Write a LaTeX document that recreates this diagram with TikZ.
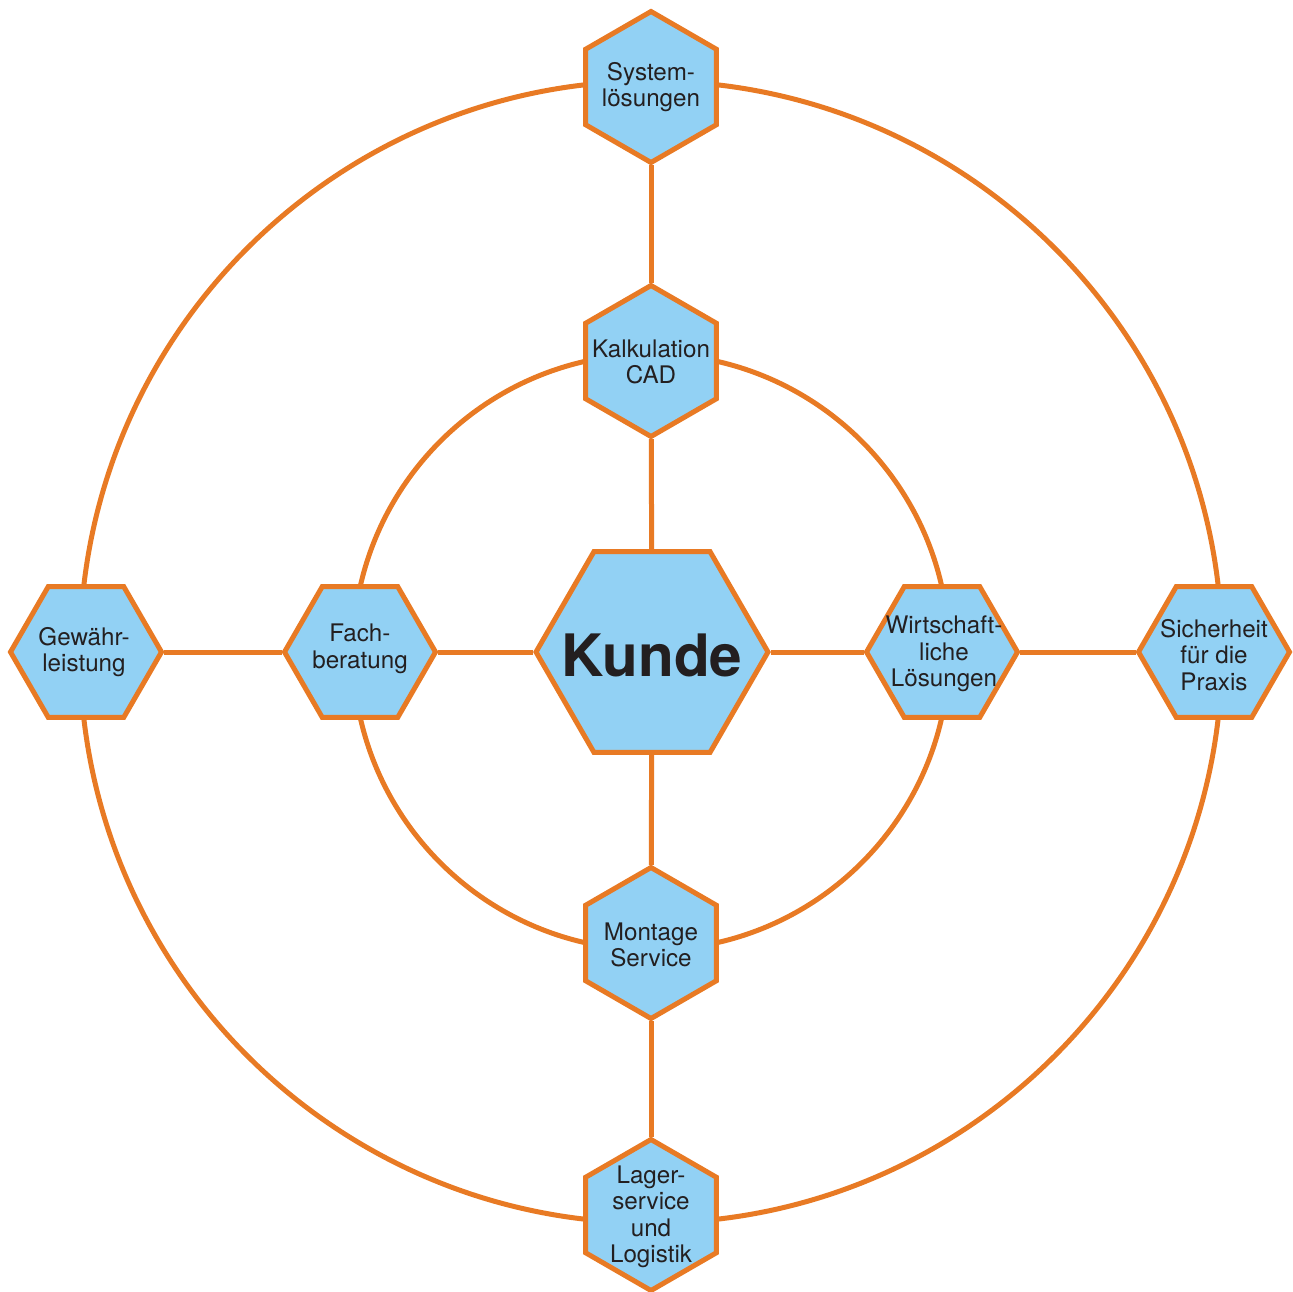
\documentclass[tikz,border=0pt]{standalone}
\usepackage{fontspec}
\setmainfont{TeX Gyre Heros}
\usetikzlibrary{shapes.geometric}
\definecolor{ring}{HTML}{E87A24}
\definecolor{hexfill}{HTML}{92D1F4}
\definecolor{ink}{HTML}{231F20}
\tikzset{
  hexbase/.style={regular polygon, regular polygon sides=6, draw=ring, fill=hexfill, line width=5pt, inner sep=0pt},
  hexv/.style={hexbase, regular polygon rotate=30, minimum size=151pt},
  hexh/.style={hexbase, minimum size=151pt},
  hexbig/.style={hexbase, minimum size=232pt},
  lbl/.style={align=center, text=ink, font=\fontsize{24.2}{26.5}\selectfont, inner sep=0pt},
  biglbl/.style={text=ink, font=\fontsize{58.5}{61}\selectfont\bfseries, inner sep=0pt},
  conn/.style={draw=ring, line width=5pt},
}
\begin{document}
\begin{tikzpicture}[x=1pt,y=-1pt]
\useasboundingbox (0,0) rectangle (1293,1292);
\coordinate (c) at (651,652);
\draw[conn] (c) circle[radius=298pt];
\draw[conn] (c) circle[radius=571pt];
\node[hexbig] (kunde) at (652,652) {};
\node[hexv] (kalk) at (651,361) {};
\node[hexv] (sys) at (651,87) {};
\node[hexv] (mont) at (651,943) {};
\node[hexv] (lager) at (651,1215) {};
\node[hexh] (fach) at (360,652) {};
\node[hexh] (gew) at (86,652) {};
\node[hexh] (wirt) at (942,652) {};
\node[hexh] (sich) at (1214,652) {};
\draw[conn] (kunde) -- (kalk);
\draw[conn] (kalk) -- (sys);
\draw[conn] (kunde) -- (mont);
\draw[conn] (mont) -- (lager);
\draw[conn] (kunde) -- (fach);
\draw[conn] (fach) -- (gew);
\draw[conn] (kunde) -- (wirt);
\draw[conn] (wirt) -- (sich);
\node[biglbl] (kunde-t) at (652,655) {Kunde};
\node[lbl] (kalk-t) at (651,362) {Kalkulation\\CAD};
\node[lbl] (sys-t) at (651,87) {System-\\lösungen};
\node[lbl] (mont-t) at (651,945) {Montage\\Service};
\node[lbl] (lager-t) at (651,1217) {Lager-\\service\\und\\Logistik};
\node[lbl] (fach-t) at (360,649) {Fach-\\beratung};
\node[lbl] (gew-t) at (84,652) {Gewähr-\\leistung};
\node[lbl] (wirt-t) at (944,654) {Wirtschaft-\\liche\\Lösungen};
\node[lbl] (sich-t) at (1214,655) {Sicherheit\\für die\\Praxis};
\end{tikzpicture}
\end{document}
